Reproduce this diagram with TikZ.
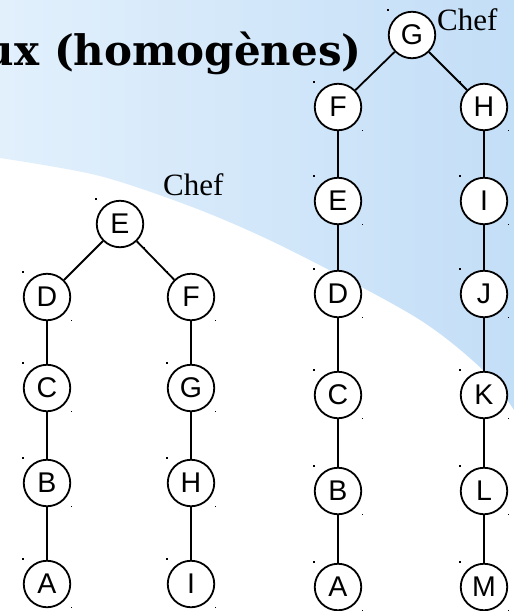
\documentclass[tikz,border=0pt]{standalone}
\usepackage{fontspec}
\setmainfont{Liberation Serif}
\newfontfamily\titlefont{DejaVu Serif}
\newfontfamily\nodefont{Liberation Sans}
\usetikzlibrary{calc}
\definecolor{bglight}{RGB}{226,240,252}
\definecolor{bgdark}{RGB}{195,222,247}
\begin{document}
\begin{tikzpicture}[x=1pt,y=-1pt,
  tn/.style={circle, draw, line width=1.8pt, fill=white, minimum size=46.5pt, inner sep=0pt,
             font=\nodefont\fontsize{28.5}{28.5}\selectfont},
  edge/.style={line width=1.8pt},
  cheflabel/.style={anchor=base west, inner sep=0pt, font=\fontsize{31}{31}\selectfont},
  titletext/.style={anchor=base east, inner sep=0pt, font=\titlefont\bfseries\fontsize{42}{42}\selectfont}]
\useasboundingbox (0,0) rectangle (514,611);
% background
\fill[white] (0,0) rectangle (514,611);
\shade[left color=bglight, right color=bgdark]
  plot[smooth] coordinates {(0,158) (100,176) (200,210) (290,250) (417,318) (483,370) (514,410)}
  -- (514,0) -- (0,0) -- cycle;
% title
\node[titletext] (title) at (362,65) {ux (homogènes)};
% left tree
\node[tn] (lE) at (120,224) {E};
\node[tn] (lD) at (47,297) {D};
\node[tn] (lF) at (191,297) {F};
\node[tn] (lC) at (47,388) {C};
\node[tn] (lG) at (191,388) {G};
\node[tn] (lB) at (47,483) {B};
\node[tn] (lH) at (191,483) {H};
\node[tn] (lA) at (47,584) {A};
\node[tn] (lI) at (191,584) {I};
% right tree
\node[tn] (rG) at (412,35) {G};
\node[tn] (rF) at (338,107) {F};
\node[tn] (rH) at (484,107) {H};
\node[tn] (rE) at (338,201) {E};
\node[tn] (rI) at (484,201) {I};
\node[tn] (rD) at (338,294) {D};
\node[tn] (rJ) at (484,294) {J};
\node[tn] (rC) at (338,395) {C};
\node[tn] (rK) at (484,395) {K};
\node[tn] (rB) at (338,491) {B};
\node[tn] (rL) at (484,491) {L};
\node[tn] (rA) at (338,587) {A};
\node[tn] (rM) at (484,587) {M};
% edges
\draw[edge] (lE) -- (lD);
\draw[edge] (lE) -- (lF);
\draw[edge] (lD) -- (lC);
\draw[edge] (lC) -- (lB);
\draw[edge] (lB) -- (lA);
\draw[edge] (lF) -- (lG);
\draw[edge] (lG) -- (lH);
\draw[edge] (lH) -- (lI);
\draw[edge] (rG) -- (rF);
\draw[edge] (rG) -- (rH);
\draw[edge] (rF) -- (rE);
\draw[edge] (rE) -- (rD);
\draw[edge] (rD) -- (rC);
\draw[edge] (rC) -- (rB);
\draw[edge] (rB) -- (rA);
\draw[edge] (rH) -- (rI);
\draw[edge] (rI) -- (rJ);
\draw[edge] (rJ) -- (rK);
\draw[edge] (rK) -- (rL);
\draw[edge] (rL) -- (rM);
% corner marks
\foreach \n in {lE,lD,lF,lC,lG,lB,lH,lA,lI,rG,rF,rH,rE,rI,rD,rJ,rC,rK,rB,rL,rA,rM}{
  \fill ($(\n.center)+(-25,-26)$) rectangle ++(1.6,1.6);
  \fill ($(\n.center)+(23.5,22.5)$) rectangle ++(1.6,1.6);
}
% labels
\node[cheflabel] (chef1) at (437,30) {Chef};
\node[cheflabel] (chef2) at (163,195) {Chef};
\end{tikzpicture}
\end{document}
